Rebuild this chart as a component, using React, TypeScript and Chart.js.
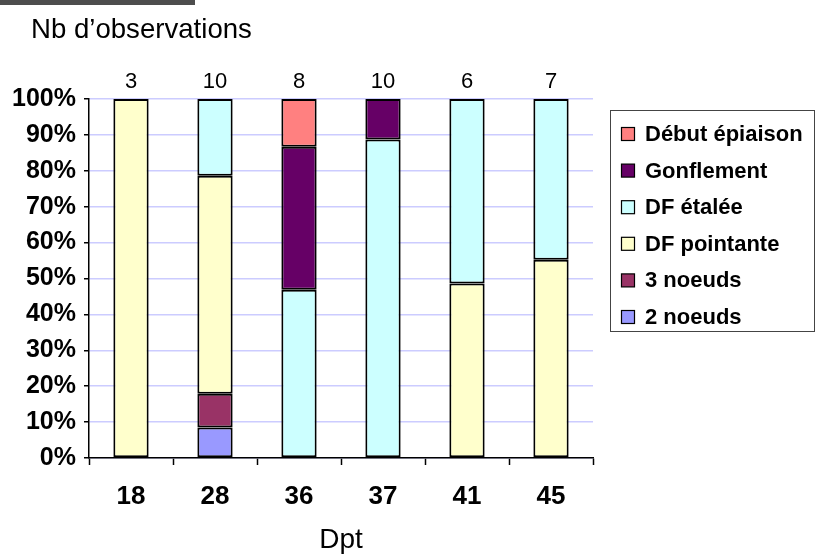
import React, { useEffect, useRef } from "react";
import { Chart, registerables } from "chart.js";

Chart.register(...registerables);

const categories = ["18", "28", "36", "37", "41", "45"];
const counts = [3, 10, 8, 10, 6, 7];
const deuxNoeuds = [0, 8.5, 0, 0, 0, 0];
const troisNoeuds = [0, 9.4, 0, 0, 0, 0];
const dfPointante = [100, 60.7, 0, 0, 48.6, 55.2];
const dfEtalee = [0, 21.4, 46.9, 88.7, 51.4, 44.8];
const gonflement = [0, 0, 39.8, 11.3, 0, 0];
const debutEpiaison = [0, 0, 13.3, 0, 0, 0];
const yTicks = [0, 10, 20, 30, 40, 50, 60, 70, 80, 90, 100];

const FONT = '"Liberation Sans", Arial, sans-serif';

const seriesDefs = [
  { label: "2 noeuds", data: deuxNoeuds, color: "#9999FF" },
  { label: "3 noeuds", data: troisNoeuds, color: "#993366" },
  { label: "DF pointante", data: dfPointante, color: "#FFFFCC" },
  { label: "DF étalée", data: dfEtalee, color: "#CCFFFF" },
  { label: "Gonflement", data: gonflement, color: "#660066" },
  { label: "Début épiaison", data: debutEpiaison, color: "#FF8080" },
];

const extrasPlugin = {
  id: "extras",
  afterDraw(chart: any) {
    const ctx = chart.ctx;
    const xs = chart.scales.x;
    const ys = chart.scales.y;
    ctx.save();
    // title
    ctx.fillStyle = "#000";
    ctx.font = `27.6px ${FONT}`;
    ctx.textAlign = "left";
    ctx.textBaseline = "alphabetic";
    ctx.fillText("Nb d’observations", 31, 38);
    // counts above bars
    ctx.font = `22px ${FONT}`;
    ctx.textAlign = "center";
    const yTop = ys.getPixelForValue(100);
    counts.forEach((c, i) => {
      ctx.fillText(String(c), xs.getPixelForValue(i), yTop - 11);
    });
    // legend
    const lx = 610.5, ly = 110.5, lw = 204, lh = 221;
    ctx.strokeStyle = "#444";
    ctx.lineWidth = 1;
    ctx.strokeRect(lx, ly, lw, lh);
    ctx.font = `bold 22px ${FONT}`;
    ctx.textAlign = "left";
    ctx.textBaseline = "middle";
    const ds = chart.data.datasets.slice().reverse();
    ds.forEach((d: any, i: number) => {
      const cy = 134 + i * 36.6;
      ctx.fillStyle = d.backgroundColor;
      ctx.fillRect(621.5, cy - 6.5, 13, 13);
      ctx.strokeStyle = "#000";
      ctx.lineWidth = 1.2;
      ctx.strokeRect(621.5, cy - 6.5, 13, 13);
      ctx.fillStyle = "#000";
      ctx.fillText(d.label, 645, cy + 1);
    });
    ctx.restore();
  },
};

export default function App() {
  const ref = useRef<HTMLCanvasElement | null>(null);
  useEffect(() => {
    document.body.style.margin = "0";
    const canvas = ref.current;
    if (!canvas) return;
    const chart = new Chart(canvas, {
      type: "bar",
      data: {
        labels: categories,
        datasets: seriesDefs.map((s) => ({
          label: s.label,
          data: s.data.map((v) => (v ? v : null)),
          backgroundColor: s.color,
          borderColor: "#000",
          borderWidth: 2,
          borderSkipped: false,
          categoryPercentage: 0.42,
          barPercentage: 1,
        })),
      },
      options: {
        responsive: false,
        animation: false,
        devicePixelRatio: 1,
        layout: { padding: { top: 99, right: 225, left: 0, bottom: 0 } },
        plugins: {
          legend: { display: false },
          tooltip: { enabled: false },
          title: { display: false },
        },
        scales: {
          x: {
            stacked: true,
            afterFit: (s: any) => {
              s.height = 99;
            },
            grid: {
              offset: true,
              drawOnChartArea: false,
              drawTicks: true,
              tickLength: 7,
              tickColor: "#000",
              tickWidth: 1.5,
            },
            border: { color: "#000", width: 1.5 },
            ticks: {
              color: "#000",
              font: { family: FONT, size: 26, weight: "bold" },
              padding: 16,
              maxRotation: 0,
            },
            title: {
              display: true,
              text: "Dpt",
              color: "#000",
              font: { family: FONT, size: 28, weight: "normal" },
              padding: { top: 0, bottom: 0 },
            },
          },
          y: {
            stacked: true,
            min: 0,
            max: 100,
            afterFit: (s: any) => {
              s.width = 89;
            },
            afterBuildTicks: (s: any) => {
              s.ticks = yTicks.map((v) => ({ value: v }));
            },
            grid: {
              color: "#CCCCFF",
              lineWidth: 1.5,
              drawTicks: true,
              tickLength: 5,
              tickColor: "#000",
              tickWidth: 1.5,
            },
            border: { color: "#000", width: 1.5 },
            ticks: {
              color: "#000",
              font: { family: FONT, size: 25, weight: "bold" },
              padding: 8,
              callback: (v: any) => v + "%",
            },
          },
        },
      },
      plugins: [extrasPlugin],
    } as any);
    return () => chart.destroy();
  }, []);
  return (
    <div style={{ position: "relative", width: 818, height: 557, background: "#fff" }}>
      <div
        style={{
          position: "absolute",
          left: 0,
          top: 0,
          width: 195,
          height: 5,
          background: "#4d4d4d",
        }}
      />
      <canvas ref={ref} width={818} height={557} style={{ display: "block" }} />
    </div>
  );
}
